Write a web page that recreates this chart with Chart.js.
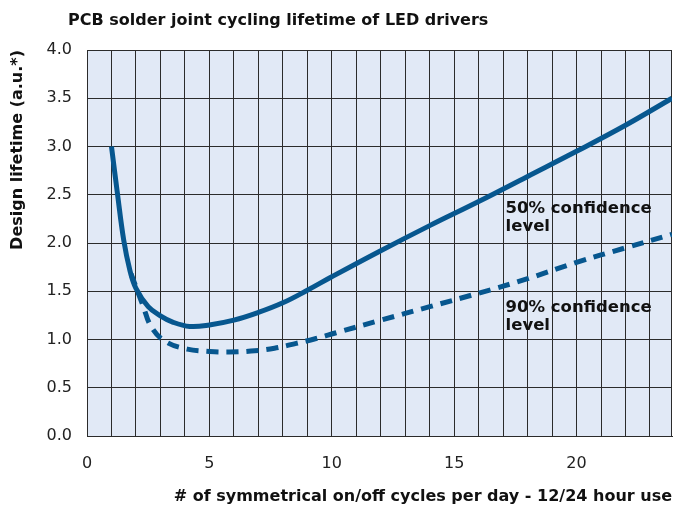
<!DOCTYPE html>
<html>
<head>
<meta charset="utf-8">
<script src="https://cdn.jsdelivr.net/npm/chart.js@4/dist/chart.umd.min.js"></script>
<style>
   html, body { margin: 0; padding: 0; background: #fff; }
</style>
</head>
<body>
<canvas id="lifetime-chart" width="677" height="506"></canvas>
<script>
// on/off cycles per day vs. design lifetime, 50% confidence level
let cycles50 = [1, 1.25, 1.5, 1.75, 2, 2.5, 3, 3.5, 4.2, 5, 6, 7, 8, 9, 10, 12, 14, 16, 18, 20, 22, 23.9];
let life50 = [3.0, 2.5, 2.03, 1.72, 1.53, 1.34, 1.245, 1.18, 1.135, 1.15, 1.2, 1.28, 1.38, 1.51, 1.65, 1.92, 2.18, 2.43, 2.69, 2.95, 3.22, 3.5];

// same, 90% confidence level
let cycles90 = [1.8, 2.29, 2.63, 3.2, 4.1, 5, 5.8, 6.7, 7.66, 8.55, 9.36, 10.18, 12, 14, 16, 18, 20, 22, 23.9];
let life90 = [1.68, 1.35, 1.13, 0.98, 0.9, 0.876, 0.87, 0.88, 0.91, 0.96, 1.01, 1.07, 1.2, 1.34, 1.48, 1.63, 1.8, 1.95, 2.09];

let xLabelTicks = [0, 5, 10, 15, 20];
let xMax = 23.9;
let yMax = 4.0;

let curveLabels = [['50% confidence', 'level'], ['90% confidence', 'level']];
let curveLabelX = [17.1, 17.1];
let curveLabelY = [2.31, 1.285];

let blue = '#07578f';
let gridColor = '#2b2b2b';
let fontFamily = '"DejaVu Sans", "Open Sans", sans-serif';

function toPoints(xs, ys) {
   return xs.map((x, i) => ({ x: x, y: ys[i] }));
}

let chartDecor = {
   id: 'chartDecor',
   beforeDraw(chart) {
      let { ctx, chartArea: a } = chart;
      ctx.save();
      ctx.fillStyle = '#e1e9f6';
      ctx.fillRect(a.left, a.top, a.right - a.left, a.bottom - a.top);
      ctx.restore();
   },
   beforeDatasetsDraw(chart) {
      let { ctx, chartArea: a } = chart;
      ctx.save();
      ctx.strokeStyle = gridColor;
      ctx.lineWidth = 1;
      ctx.strokeRect(a.left + 0.5, a.top + 0.5, a.right - a.left - 1, a.bottom - a.top);
      ctx.restore();
   },
   afterDraw(chart) {
      let { ctx, scales } = chart;
      ctx.save();
      ctx.fillStyle = '#111';
      ctx.textBaseline = 'alphabetic';
      ctx.font = `bold 16px ${fontFamily}`;
      ctx.fillText('PCB solder joint cycling lifetime of LED drivers', 68, 25);

      ctx.font = `bold 16.5px ${fontFamily}`;
      curveLabels.forEach((lines, i) => {
         let px = scales.x.getPixelForValue(curveLabelX[i]);
         let py = scales.y.getPixelForValue(curveLabelY[i]);
         lines.forEach((line, j) => ctx.fillText(line, px, py + j * 18));
      });
      ctx.restore();
   }
};

new Chart(document.getElementById('lifetime-chart'), {
   type: 'line',
   data: {
      datasets: [
         {
            label: '50% confidence level',
            data: toPoints(cycles50, life50),
            borderColor: blue,
            borderWidth: 5,
            pointRadius: 0,
            fill: false,
            tension: 0.4
         },
         {
            label: '90% confidence level',
            data: toPoints(cycles90, life90),
            borderColor: blue,
            borderWidth: 5,
            borderDash: [12, 8],
            borderCapStyle: 'butt',
            pointRadius: 0,
            fill: false,
            tension: 0.4
         }
      ]
   },
   options: {
      responsive: false,
      animation: false,
      devicePixelRatio: 1,
      layout: { padding: { top: 50, right: 5, left: 0, bottom: 0 } },
      plugins: {
         legend: { display: false },
         title: { display: false },
         tooltip: { enabled: false }
      },
      scales: {
         x: {
            type: 'linear',
            min: 0,
            max: xMax,
            afterFit(scale) { scale.height = 70; },
            grid: { color: gridColor, lineWidth: 1, drawTicks: false },
            border: { color: gridColor },
            ticks: {
               stepSize: 1,
               includeBounds: false,
               autoSkip: false,
               maxRotation: 0,
               padding: 18,
               color: '#222',
               font: { family: fontFamily, size: 16 },
               callback: (v) => xLabelTicks.includes(v) ? String(v) : ''
            },
            title: {
               display: true,
               align: 'end',
               text: '# of symmetrical on/off cycles per day - 12/24 hour use',
               color: '#111',
               font: { family: fontFamily, size: 16, weight: 'bold' },
               padding: { top: 0, bottom: 0 }
            }
         },
         y: {
            min: 0,
            max: yMax,
            afterFit(scale) { scale.width = 87; },
            grid: { color: gridColor, lineWidth: 1, drawTicks: false },
            border: { color: gridColor },
            ticks: {
               stepSize: 0.5,
               padding: 15,
               color: '#222',
               font: { family: fontFamily, size: 16 },
               callback: (v) => v.toFixed(1)
            },
            title: {
               display: true,
               align: 'end',
               text: 'Design lifetime (a.u.*)',
               color: '#111',
               font: { family: fontFamily, size: 16, weight: 'bold' },
               padding: { top: 8, bottom: 0 }
            }
         }
      }
   },
   plugins: [chartDecor]
});
</script>
</body>
</html>
